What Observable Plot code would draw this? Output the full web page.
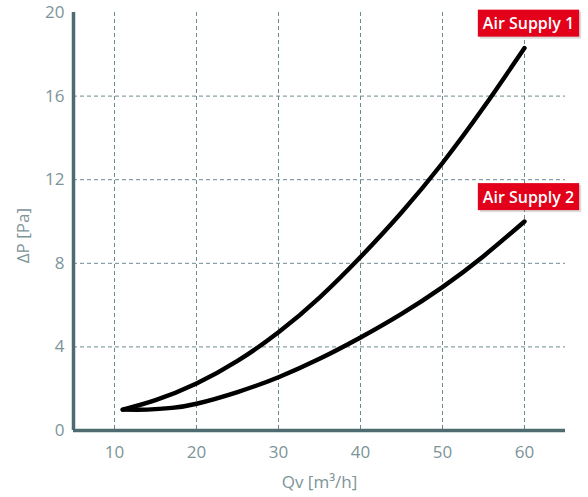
<!DOCTYPE html>
<html>
<head>
<meta charset="utf-8">
<script src="https://cdn.jsdelivr.net/npm/d3@7"></script>
<script src="https://cdn.jsdelivr.net/npm/@observablehq/plot@0.6"></script>
<style>
  html, body { margin: 0; padding: 0; background: #fff; }
  svg { display: block; }
</style>
</head>
<body>
<script>
// ---- data ----
const seriesNames = ["Air Supply 1", "Air Supply 2"];
const qv1 = [11, 15, 20, 25, 30, 35, 40, 45, 50, 55, 60];
const dp1 = [1.0, 1.45, 2.25, 3.33, 4.7, 6.36, 8.3, 10.43, 12.8, 15.45, 18.3];
const qv2 = [11, 14, 17, 20, 25, 30, 35, 40, 45, 50, 55, 60];
const dp2 = [1.0, 1.0, 1.08, 1.28, 1.84, 2.55, 3.43, 4.45, 5.58, 6.86, 8.34, 10.0];
const xTicks = [10, 20, 30, 40, 50, 60];
const yTicks = [0, 4, 8, 12, 16, 20];
const yGrid = [4, 8, 12, 16];
const xLabel = "Qv [m³/h]";
const yLabel = "ΔP [Pa]";

const rows = [
  ...qv1.map((q, i) => ({series: seriesNames[0], qv: q, dp: dp1[i]})),
  ...qv2.map((q, i) => ({series: seriesNames[1], qv: q, dp: dp2[i]}))
];
const ends = [
  {series: seriesNames[0], qv: qv1[qv1.length - 1], dp: dp1[dp1.length - 1]},
  {series: seriesNames[1], qv: qv2[qv2.length - 1], dp: dp2[dp2.length - 1]}
];

const axisCol = "#4e6b70";
const gridCol = "#6d8a8f";
const textCol = "#7d9498";

const svg = Plot.plot({
  width: 588,
  height: 497,
  marginLeft: 73,
  marginRight: 23,
  marginTop: 12,
  marginBottom: 67,
  style: {fontFamily: "'Open Sans', sans-serif", background: "white", overflow: "visible"},
  x: {domain: [5, 65]},
  y: {domain: [0, 20]},
  marks: [
    Plot.gridX(xTicks, {stroke: gridCol, strokeOpacity: 1, strokeDasharray: "4,3", strokeWidth: 1}),
    Plot.gridY(yGrid, {stroke: gridCol, strokeOpacity: 1, strokeDasharray: "4,3", strokeWidth: 1}),
    Plot.line(rows, {x: "qv", y: "dp", z: "series", stroke: "black", strokeWidth: 4.4, curve: "natural", strokeLinecap: "round", strokeLinejoin: "round"}),
    Plot.ruleY([0], {stroke: axisCol, strokeWidth: 3.5}),
    Plot.ruleX([5], {stroke: axisCol, strokeWidth: 3.5}),
    Plot.axisX(xTicks, {tickSize: 0, tickPadding: 15, fontSize: 17, fill: textCol, label: null}),
    Plot.axisY(yTicks, {tickSize: 0, tickPadding: 9, fontSize: 17, fill: textCol, label: null}),
    Plot.text([xLabel], {frameAnchor: "bottom", dy: 57, fontSize: 17, fill: textCol}),
    Plot.text([yLabel], {frameAnchor: "left", y: () => 8, dx: -50, rotate: -90, fontSize: 17, fill: textCol}),
    Plot.text(ends, {x: "qv", y: "dp", text: "series", dx: 4, dy: -24, fill: "white", fontSize: 16, fontWeight: 600})
  ]
});
document.body.append(svg);

// red label boxes behind the series labels
const ns = "http://www.w3.org/2000/svg";
for (const t of Array.from(svg.querySelectorAll("text"))) {
  if (!seriesNames.includes(t.textContent)) continue;
  const parent = t.parentNode;
  const b = t.getBBox();
  const padX = 5, padY = 2.5;
  const tr = t.getAttribute("transform");
  const mk = (off, fill, op) => {
    const r = document.createElementNS(ns, "rect");
    r.setAttribute("x", b.x - padX + off);
    r.setAttribute("y", b.y - padY + off);
    r.setAttribute("width", b.width + 2 * padX);
    r.setAttribute("height", b.height + 2 * padY);
    r.setAttribute("fill", fill);
    r.setAttribute("fill-opacity", op);
    r.setAttribute("stroke", "none");
    if (tr) r.setAttribute("transform", tr);
    parent.insertBefore(r, t);
    return r;
  };
  mk(2, "#888", 0.3);
  mk(0, "#e2001a", 1);
}
</script>
</body>
</html>
